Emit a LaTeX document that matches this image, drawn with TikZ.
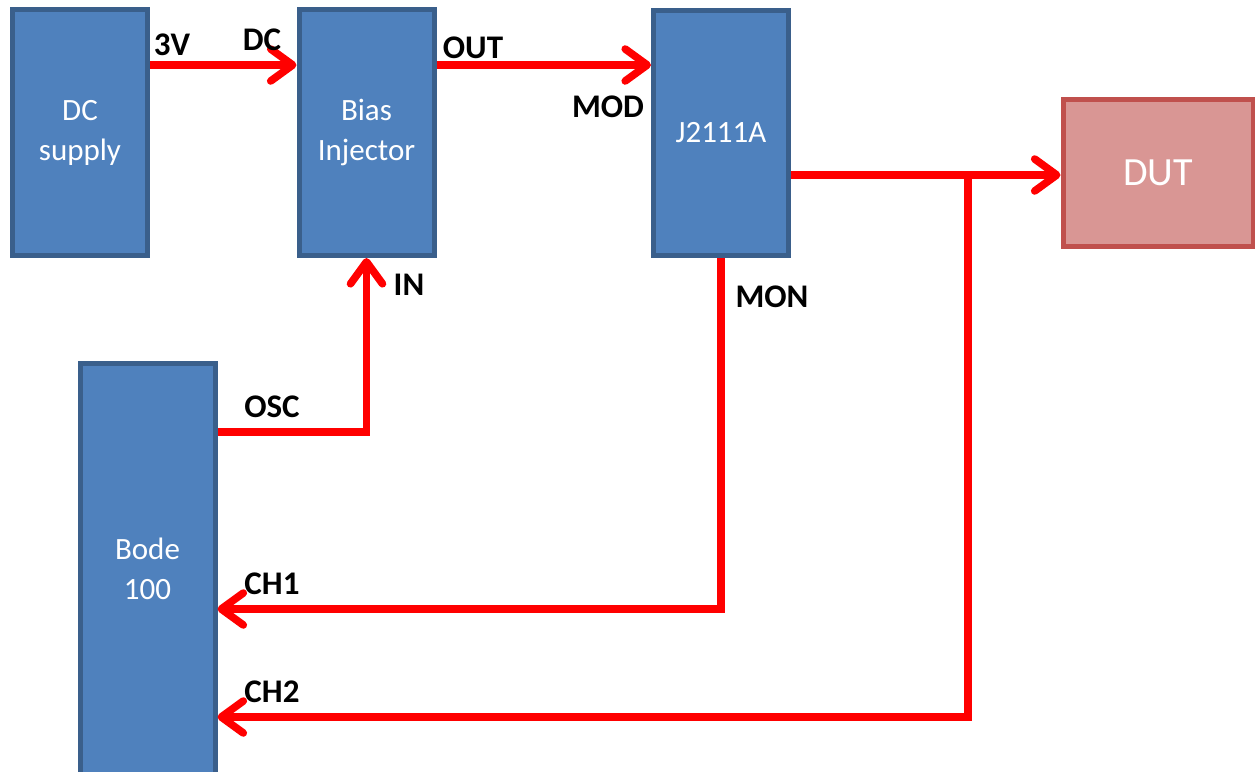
\documentclass[tikz,border=0pt]{standalone}
\usepackage{fontspec}
\setmainfont{Carlito}
\usetikzlibrary{arrows.meta}
\definecolor{boxfill}{HTML}{4F81BD}
\definecolor{boxedge}{HTML}{3A5F8B}
\definecolor{dutfill}{HTML}{D99694}
\definecolor{dutedge}{HTML}{C0504D}

\begin{document}
\begin{tikzpicture}[x=0.5pt, y=-0.5pt,
  blk/.style={draw=boxedge, fill=boxfill, line width=2.5pt, minimum width=67.5pt, minimum height=123pt,
    text=white, align=center, inner sep=0pt, font=\fontsize{15.5}{20}\selectfont},
  wire/.style={red, line width=3.8pt},
  feed/.style={wire, -{Straight Barb[length=11pt,width=16pt,round]}},
  lbl/.style={inner sep=0pt, font=\bfseries\fontsize{16.5}{20}\selectfont}]
\useasboundingbox (0,0) rectangle (1255,772);
\node[blk] (dcsup) at (80,132.5) {DC\\supply};
\node[blk] (bias) at (366.5,132.5) {Bias\\Injector};
\node[blk, minimum height=122.5pt] (jmod) at (721,133) {J2111A};
\node[blk, draw=dutedge, fill=dutfill, minimum width=95pt, minimum height=73.5pt,
  font=\fontsize{20}{24}\selectfont] (dut) at (1158,173) {DUT};
\node[blk, minimum height=205.5pt] (bode) at (147.5,569) {Bode\\100};
\coordinate (tap) at (968,175);
\draw[feed] (dcsup.east |- 0,65) -- (bias.west |- 0,65);
\draw[feed] (bias.east |- 0,65) -- (jmod.west |- 0,65);
\draw[feed] (jmod.east |- tap) -- (dut.west |- tap);
\draw[feed] (bode.east |- 0,432) -| (bias.south);
\draw[feed] (jmod.south) |- (bode.east |- 0,609);
\draw[feed] (tap) |- (bode.east |- 0,717);
\node[lbl] (l3v) at (172,45) {3V};
\node[lbl] (ldc) at (262,40) {DC};
\node[lbl] (lout) at (473,48) {OUT};
\node[lbl] (lmod) at (608,107) {MOD};
\node[lbl] (lin) at (409,285) {IN};
\node[lbl] (lmon) at (772,297) {MON};
\node[lbl] (losc) at (272,407) {OSC};
\node[lbl] (lch1) at (272,584) {CH1};
\node[lbl] (lch2) at (272,692) {CH2};
\end{tikzpicture}
\end{document}
